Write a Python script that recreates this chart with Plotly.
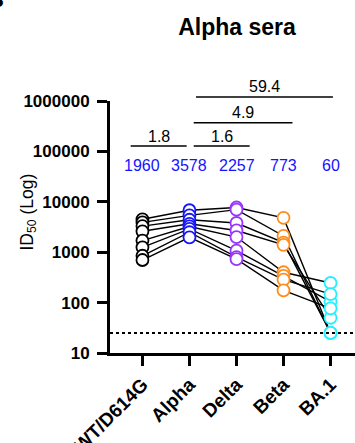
import numpy as np
import plotly.graph_objects as go

categories = ["WT/D614G", "Alpha", "Delta", "Beta", "BA.1"]
colors = ["#000000", "#1414FF", "#9933FF", "#FF8C1A", "#22F0FF"]

# Titres per serum (rows) across variants (columns)
serum_A = [4500, 6800, 7700, 4800, 25]
serum_B = [3900, 5380, 7000, 2100, 25]
serum_C = [3300, 4400, 3800, 1550, 25]
serum_D = [2600, 3660, 2700, 1400, 50]
serum_E = [1700, 3240, 2000, 400, 245]
serum_F = [1250, 2900, 1070, 340, 105]
serum_G = [850, 2490, 800, 285, 147]
serum_H = [700, 1970, 730, 175, 77]
sera = [serum_A, serum_B, serum_C, serum_D, serum_E, serum_F, serum_G, serum_H]

geo_means = ["1960", "3578", "2257", "773", "60"]
LOD = 25

# fold-change brackets: (from x, to x, label, height in paper units)
brackets = [(-0.25, 0.94, "1.8", 0.821), (1.09, 2.28, "1.6", 0.821),
            (1.09, 3.19, "4.9", 0.914), (1.14, 4.05, "59.4", 1.016)]

ytick_vals = [10, 100, 1000, 10000, 100000, 1000000]
ytick_text = ["10", "100", "1000", "10000", "100000", "1000000"]

xs = list(range(len(categories)))
fig = go.Figure()

for s in sera:
    fig.add_trace(go.Scatter(x=xs, y=s, mode="lines",
                             line=dict(color="black", width=1.4),
                             showlegend=False, hoverinfo="skip"))

for i, cat in enumerate(categories):
    vals = [s[i] for s in sera]
    fig.add_trace(go.Scatter(x=[i] * len(vals), y=vals, mode="markers",
                             marker=dict(symbol="circle", size=12, color="white",
                                         line=dict(color=colors[i], width=1.8)),
                             showlegend=False, cliponaxis=False))

fig.add_shape(type="line", xref="paper", x0=0, x1=1, yref="y",
              y0=LOD, y1=LOD,
              line=dict(color="black", width=2, dash="dot"))

fnt = "Liberation Sans, Arial, sans-serif"
for (a, b, lab, yp) in brackets:
    fig.add_shape(type="line", xref="x", yref="paper", x0=a, x1=b, y0=yp, y1=yp,
                  line=dict(color="black", width=1.5))
    fig.add_annotation(x=(a + b) / 2, y=yp + 0.04, xref="x", yref="paper",
                       text=lab, showarrow=False, yanchor="middle",
                       font=dict(family=fnt, size=16, color="black"))

for i, g in enumerate(geo_means):
    fig.add_annotation(x=i, y=0.746, xref="x", yref="paper", text=g,
                       showarrow=False, yanchor="middle",
                       font=dict(family=fnt, size=16, color="#1414FF"))

fig.add_annotation(x=(14 - 110) / 245, y=(353 - 212) / 252, xref="paper", yref="paper",
                   text="ID<sub>50</sub> (Log)", textangle=-90, showarrow=False,
                   font=dict(family=fnt, size=17.5, color="black"))

fig.add_annotation(x=(6 - 110) / 245, y=(353 - 14) / 252, xref="paper", yref="paper",
                   text="<b>B</b>", showarrow=False, xanchor="right", yanchor="bottom",
                   font=dict(family=fnt, size=22, color="black"))

fig.update_layout(
    width=355, height=443,
    margin=dict(l=110, r=0, t=101, b=90, autoexpand=False),
    paper_bgcolor="white", plot_bgcolor="white",
    title=dict(text="<b>Alpha sera</b>", x=(237) / 355, xanchor="center",
               y=1 - 27 / 443, yanchor="middle",
               font=dict(family=fnt, size=23, color="black")),
    xaxis=dict(range=[-0.69, 4.52], tickmode="array", tickvals=xs, ticktext=categories,
               tickangle=-45, showline=True, linecolor="black", linewidth=3,
               ticks="outside", ticklen=10, tickwidth=3, tickcolor="black",
               showgrid=False, zeroline=False, automargin=False,
               tickfont=dict(family=fnt, size=19, color="black", weight="bold")),
    yaxis=dict(type="log", range=[1, 6], tickmode="array", tickvals=ytick_vals,
               ticktext=ytick_text, showline=True, linecolor="black", linewidth=3,
               ticks="outside", ticklen=10, tickwidth=3, tickcolor="black",
               showgrid=False, zeroline=False, automargin=False, ticklabelstandoff=4,
               tickfont=dict(family=fnt, size=17, color="black", weight="bold")),
)

fig.write_html("out.html", config={"displayModeBar": False},
               post_script="document.body.style.margin='0';document.body.style.overflow='hidden';")
